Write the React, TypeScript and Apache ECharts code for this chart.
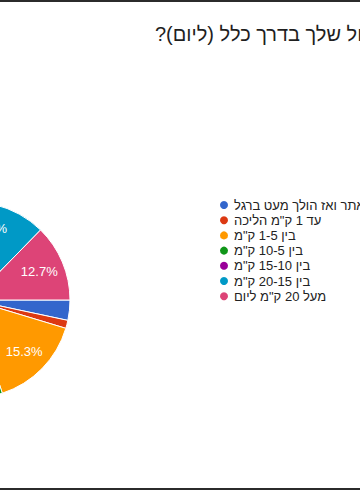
import React, { useEffect, useRef } from "react";
import * as echarts from "echarts";

const FONT = "'Liberation Sans', Arial, sans-serif";

const TITLE = "מה אורך הטיול שלך בדרך כלל (ליום)?";

const categories = [
  "נוסע ברכב עד האתר ואז הולך מעט ברגל",
  "עד 1 ק\"מ הליכה",
  "בין 1-5 ק\"מ",
  "בין 10-5 ק\"מ",
  "בין 15-10 ק\"מ",
  "בין 20-15 ק\"מ",
  "מעל 20 ק\"מ ליום",
];

// response counts (N = 150)
const counts = [5, 2, 23, 42, 33, 26, 19];

const colors = ["#3366CC", "#DC3912", "#FF9900", "#109618", "#990099", "#0099C6", "#DD4477"];

export default function App() {
  const ref = useRef<HTMLDivElement>(null);

  useEffect(() => {
    if (!ref.current) return;
    const chart = echarts.init(ref.current, undefined, { renderer: "svg" });
    const data = categories.map((name, i) => ({
      name,
      value: counts[i],
      itemStyle: { color: colors[i] },
    }));
    chart.setOption({
      animation: false,
      backgroundColor: "#ffffff",
      title: {
        text: TITLE + "\u200F",
        left: 155,
        top: 24,
        padding: 0,
        textStyle: { fontSize: 20, fontWeight: "normal", color: "#1f1f1f", fontFamily: FONT, lineHeight: 20 },
      },
      legend: {
        orient: "vertical",
        left: 218,
        top: 198.5,
        padding: 0,
        itemWidth: 10,
        itemHeight: 10,
        itemGap: 2.2,
        icon: "circle",
        selectedMode: false,
        data: categories,
        textStyle: { fontSize: 13, color: "#222222", fontFamily: FONT, lineHeight: 13 },
      },
      graphic: [
        { type: "rect", left: 0, top: 0, shape: { width: 360, height: 2 }, style: { fill: "#2b2b2b" } },
        { type: "rect", left: 0, top: 488, shape: { width: 360, height: 2 }, style: { fill: "#2b2b2b" } },
      ],
      series: [
        {
          type: "pie",
          center: [-28, 300],
          radius: 98,
          startAngle: 0,
          clockwise: true,
          silent: true,
          label: { show: false },
          labelLine: { show: false },
          itemStyle: { borderColor: "#ffffff", borderWidth: 1 },
          data,
        },
        {
          type: "pie",
          center: [-28, 300],
          radius: [42, 98],
          startAngle: 0,
          clockwise: true,
          silent: true,
          percentPrecision: 1,
          labelLine: { show: false },
          itemStyle: { color: "rgba(0,0,0,0)", borderWidth: 0 },
          label: {
            show: true,
            position: "inside",
            color: "#ffffff",
            fontSize: 13,
            fontFamily: FONT,
            formatter: (p: any) => (p.percent >= 5 ? p.percent.toFixed(1) + "%" : ""),
          },
          data: categories.map((name, i) => ({ name, value: counts[i] })),
        },
      ],
    });
    return () => chart.dispose();
  }, []);

  return (
    <div
      ref={ref}
      style={{ position: "fixed", left: 0, top: 0, width: 360, height: 490, background: "#fff" }}
    />
  );
}
